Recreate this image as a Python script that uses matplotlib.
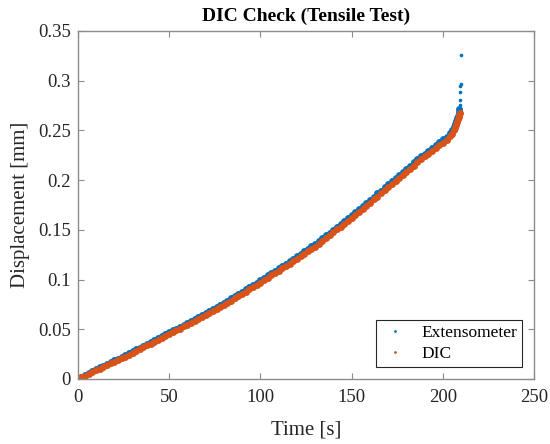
import matplotlib
matplotlib.use("Agg")
import matplotlib.pyplot as plt

# time [s] and displacement [mm]
t_dic = [0, 2, 4, 6, 8, 10, 12, 14, 16, 18, 20, 22, 24, 26, 28, 30, 32, 34, 36, 38,
         40, 42, 44, 46, 48, 50, 52, 54, 56, 58, 60, 62, 64, 66, 68, 70, 72, 74, 76, 78,
         80, 82, 84, 86, 88, 90, 92, 94, 96, 98, 100, 102, 104, 106, 108, 110, 112, 114,
         116, 118, 120, 122, 124, 126, 128, 130, 132, 134, 136, 138, 140, 142, 144, 146,
         148, 150, 152, 154, 156, 158, 160, 162, 164, 166, 168, 170, 172, 174, 176, 178,
         180, 182, 184, 186, 188, 190, 192, 194, 196, 198, 200, 202, 204,
         205, 206, 206.5, 207, 207.5, 208, 208.5, 209, 209.3]
d_dic = [0.0000, 0.0018, 0.0033, 0.0053, 0.0068, 0.0088, 0.0103, 0.0122, 0.0137, 0.0157,
         0.0172, 0.0191, 0.0207, 0.0226, 0.0243, 0.0264, 0.0280, 0.0301, 0.0318, 0.0339,
         0.0355, 0.0376, 0.0393, 0.0414, 0.0430, 0.0451, 0.0468, 0.0489, 0.0507, 0.0528,
         0.0545, 0.0566, 0.0583, 0.0605, 0.0622, 0.0643, 0.0660, 0.0681, 0.0699, 0.0723,
         0.0744, 0.0768, 0.0789, 0.0814, 0.0834, 0.0859, 0.0879, 0.0904, 0.0924, 0.0949,
         0.0969, 0.0995, 0.1017, 0.1043, 0.1065, 0.1091, 0.1113, 0.1139, 0.1161, 0.1187,
         0.1209, 0.1235, 0.1257, 0.1283, 0.1305, 0.1331, 0.1358, 0.1389, 0.1416, 0.1447,
         0.1474, 0.1505, 0.1532, 0.1563, 0.1590, 0.1621, 0.1650, 0.1683, 0.1711, 0.1744,
         0.1773, 0.1806, 0.1834, 0.1867, 0.1896, 0.1929, 0.1957, 0.1990, 0.2019, 0.2053,
         0.2083, 0.2117, 0.2147, 0.2181, 0.2209, 0.2239, 0.2265, 0.2295, 0.2321, 0.2351,
         0.2377, 0.2407, 0.2439,
         0.2465, 0.2500, 0.2525, 0.2550, 0.2580, 0.2610, 0.2635, 0.2660, 0.2680]

t_ext = [0, 2, 4, 6, 8, 10, 12, 14, 16, 18, 20, 22, 24, 26, 28, 30, 32, 34, 36, 38,
         40, 42, 44, 46, 48, 50, 52, 54, 56, 58, 60, 62, 64, 66, 68, 70, 72, 74, 76, 78,
         80, 82, 84, 86, 88, 90, 92, 94, 96, 98, 100, 102, 104, 106, 108, 110, 112, 114,
         116, 118, 120, 122, 124, 126, 128, 130, 132, 134, 136, 138, 140, 142, 144, 146,
         148, 150, 152, 154, 156, 158, 160, 162, 164, 166, 168, 170, 172, 174, 176, 178,
         180, 182, 184, 186, 188, 190, 192, 194, 196, 198, 200, 202, 204,
         205, 206, 206.5, 207, 207.5, 208, 208.5, 209]
d_ext = [0.0005, 0.0025, 0.0045, 0.0062, 0.0082, 0.0098, 0.0118, 0.0133, 0.0153, 0.0169,
         0.0190, 0.0204, 0.0225, 0.0240, 0.0262, 0.0278, 0.0298, 0.0316, 0.0335, 0.0352,
         0.0372, 0.0390, 0.0410, 0.0429, 0.0449, 0.0468, 0.0489, 0.0506, 0.0527, 0.0545,
         0.0566, 0.0584, 0.0605, 0.0622, 0.0644, 0.0661, 0.0681, 0.0699, 0.0720, 0.0741,
         0.0765, 0.0786, 0.0810, 0.0832, 0.0856, 0.0877, 0.0902, 0.0922, 0.0947, 0.0968,
         0.0993, 0.1015, 0.1042, 0.1064, 0.1091, 0.1112, 0.1139, 0.1161, 0.1188, 0.1209,
         0.1236, 0.1258, 0.1284, 0.1306, 0.1333, 0.1357, 0.1386, 0.1414, 0.1445, 0.1472,
         0.1503, 0.1530, 0.1561, 0.1589, 0.1620, 0.1647, 0.1680, 0.1709, 0.1742, 0.1771,
         0.1804, 0.1833, 0.1866, 0.1895, 0.1928, 0.1957, 0.1990, 0.2018, 0.2051, 0.2081,
         0.2115, 0.2145, 0.2178, 0.2208, 0.2240, 0.2267, 0.2298, 0.2324, 0.2355, 0.2381,
         0.2411, 0.2438, 0.2470,
         0.2500, 0.2535, 0.2560, 0.2590, 0.2620, 0.2650, 0.2690, 0.2720]

# sparse extensometer readings at failure
t_ext_tail = [209.2, 209.3, 209.4, 209.5, 209.6, 209.8]
d_ext_tail = [0.2760, 0.2810, 0.2890, 0.2950, 0.2970, 0.3260]

x_ticks = [0, 50, 100, 150, 200, 250]
y_ticks = [0, 0.05, 0.1, 0.15, 0.2, 0.25, 0.3, 0.35]
y_tick_labels = ["0", "0.05", "0.1", "0.15", "0.2", "0.25", "0.3", "0.35"]

plt.rcParams["font.family"] = ["Liberation Serif", "DejaVu Serif"]

fig = plt.figure(figsize=(5.5, 4.44), dpi=100)
ax = fig.add_axes([0.1413, 0.1464, 0.8302, 0.7838])

ax.plot(t_ext, d_ext, linestyle="none", marker="o", ms=5.0, mew=0,
        color="#0072BD", label="Extensometer")
ax.plot(t_ext_tail, d_ext_tail, linestyle="none", marker="o", ms=2.6, mew=0,
        color="#0072BD")
ax.plot(t_dic, d_dic, linestyle="none", marker="o", ms=5.0, mew=0,
        color="#D95319", label="DIC")

ax.set_xlim(0, 250)
ax.set_ylim(0, 0.35)
ax.set_xticks(x_ticks)
ax.set_yticks(y_ticks)
ax.set_yticklabels(y_tick_labels)

for s in ax.spines.values():
    s.set_color("#8c8c8c")
    s.set_linewidth(1.0)
ax.tick_params(direction="in", top=True, right=True, length=4, width=0.8,
               color="#8c8c8c", labelsize=13.5, labelcolor="#262626")
ax.tick_params(axis="x", pad=7)
ax.tick_params(axis="y", pad=5)

ax.set_xlabel("Time [s]", fontsize=15, color="#262626", labelpad=11)
ax.set_ylabel("Displacement [mm]", fontsize=15, color="#262626", labelpad=6)
ax.set_title("DIC Check (Tensile Test)", fontsize=14, fontweight="bold", pad=7)

leg = ax.legend(loc="lower right", fontsize=12.5, markerscale=0.4, fancybox=False,
                framealpha=1, edgecolor="#262626", handletextpad=0.7,
                borderaxespad=0.7, handlelength=1.6, borderpad=0.3,
                labelspacing=0.25)
leg.get_frame().set_linewidth(0.8)

fig.savefig("out.png", dpi=100)
